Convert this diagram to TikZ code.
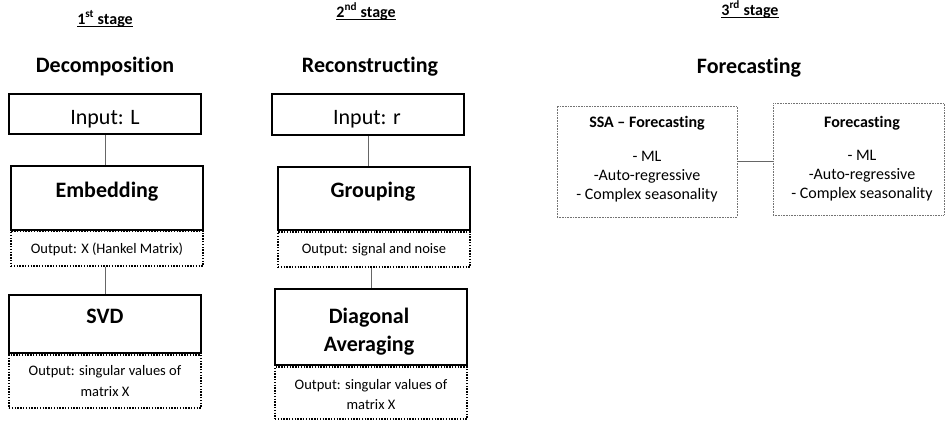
\documentclass[tikz,border=0pt]{standalone}
\usepackage{fontspec}
\setmainfont{Carlito}[Ligatures=NoCommon]
\begin{document}
\begin{tikzpicture}[x=1pt,y=-1pt,
  solidbox/.style={draw=black, line width=1.6pt, inner sep=0pt},
  dotbox/.style={draw=black, line width=1.6pt, dash pattern=on 1.4pt off 1.4pt, inner sep=0pt},
  fcbox/.style={draw=black!55, line width=0.7pt, dash pattern=on 0.8pt off 0.8pt, inner sep=0pt},
  link/.style={draw=black!60, line width=1pt},
  stagetxt/.style={anchor=base, inner sep=0pt, font=\fontsize{16}{19}\selectfont\bfseries},
  headtxt/.style={anchor=base, inner sep=0pt, font=\fontsize{22}{26}\selectfont\bfseries},
  inputtxt/.style={anchor=base, inner sep=0pt, font=\fontsize{22}{26}\selectfont},
  outtxt/.style={anchor=base, inner sep=0pt, font=\fontsize{14.5}{17}\selectfont},
  fctitle/.style={anchor=base, inner sep=0pt, font=\fontsize{16}{19}\selectfont\bfseries},
  fctxt/.style={anchor=base, inner sep=0pt, font=\fontsize{16}{19}\selectfont},
  uline/.style={draw=black, line width=1pt}
]
\useasboundingbox (0,0) rectangle (946,421);

% ---------- stage labels ----------
\node[stagetxt] (s1) at (105,24) {1\textsuperscript{st} stage};
\node[stagetxt] (s2) at (366,17) {2\textsuperscript{nd} stage};
\node[stagetxt] (s3) at (750,15) {3\textsuperscript{rd} stage};
\foreach \s in {s1,s2,s3}
  \draw[uline] ([yshift=-2.5pt]\s.base west) -- ([yshift=-2.5pt]\s.base east);

% ---------- headings ----------
\node[headtxt] (h1) at (105,72) {Decomposition};
\node[headtxt] (h2) at (370,72) {Reconstructing};
\node[headtxt] (h3) at (749,73) {Forecasting};

% ---------- column 1 ----------
\node[solidbox, minimum width=192pt, minimum height=40pt] (inL) at (105,114) {};
\node[inputtxt] (inLt) at (105,124) {Input: L};
\node[solidbox, minimum width=192pt, minimum height=64pt] (emb) at (107,198) {};
\node[headtxt] (embt) at (107,197) {Embedding};
\node[dotbox, minimum width=192pt, minimum height=35pt] (out1) at (107,248.5) {};
\node[outtxt] (out1t) at (107,253) {Output: X (Hankel Matrix)};
\node[solidbox, minimum width=192pt, minimum height=58pt] (svd) at (105,324) {};
\node[headtxt] (svdt) at (105,323) {SVD};
\node[dotbox, minimum width=192pt, minimum height=53pt] (out2) at (105,381.5) {};
\node[outtxt] (out2a) at (105,375) {Output: singular values of};
\node[outtxt] (out2b) at (105,396) {matrix X};

\draw[link] (inL.south) -- (inL.south |- emb.north);
\draw[link] (svd.north |- out1.south) -- (svd.north);

% ---------- column 2 ----------
\node[solidbox, minimum width=192pt, minimum height=41pt] (inR) at (368,114.5) {};
\node[inputtxt] (inRt) at (367,124) {Input: r};
\node[solidbox, minimum width=192pt, minimum height=63pt] (grp) at (374,198.5) {};
\node[headtxt] (grpt) at (373,197) {Grouping};
\node[dotbox, minimum width=192pt, minimum height=35pt] (out3) at (374,249.5) {};
\node[outtxt] (out3t) at (374,253) {Output: signal and noise};
\node[solidbox, minimum width=192pt, minimum height=76pt] (diag) at (371,327) {};
\node[headtxt] (diagt1) at (369,323) {Diagonal};
\node[headtxt] (diagt2) at (369,351) {Averaging};
\node[dotbox, minimum width=192pt, minimum height=52pt] (out4) at (371,393) {};
\node[outtxt] (out4a) at (371,389) {Output: singular values of};
\node[outtxt] (out4b) at (371,409) {matrix X};

\draw[link] (inR.south) -- (inR.south |- grp.north);
\draw[link] (diag.north |- out3.south) -- (diag.north);

% ---------- column 3 ----------
\node[fcbox, minimum width=180pt, minimum height=111pt] (ssa) at (647,161.5) {};
\node[fctitle] (ssat) at (647,127) {SSA – Forecasting};
\node[fctxt] (ssa1) at (647,161) {- ML};
\node[fctxt] (ssa2) at (647,180) {-Auto-regressive};
\node[fctxt] (ssa3) at (647,199) {- Complex seasonality};

\node[fcbox, minimum width=171pt, minimum height=112pt] (fc) at (858.5,159) {};
\node[fctitle] (fct) at (862,127) {Forecasting};
\node[fctxt] (fc1) at (862,160) {- ML};
\node[fctxt] (fc2) at (862,179) {-Auto-regressive};
\node[fctxt] (fc3) at (862,198) {- Complex seasonality};

\draw[link] (ssa.east) -- (ssa.east -| fc.west);
\end{tikzpicture}
\end{document}
